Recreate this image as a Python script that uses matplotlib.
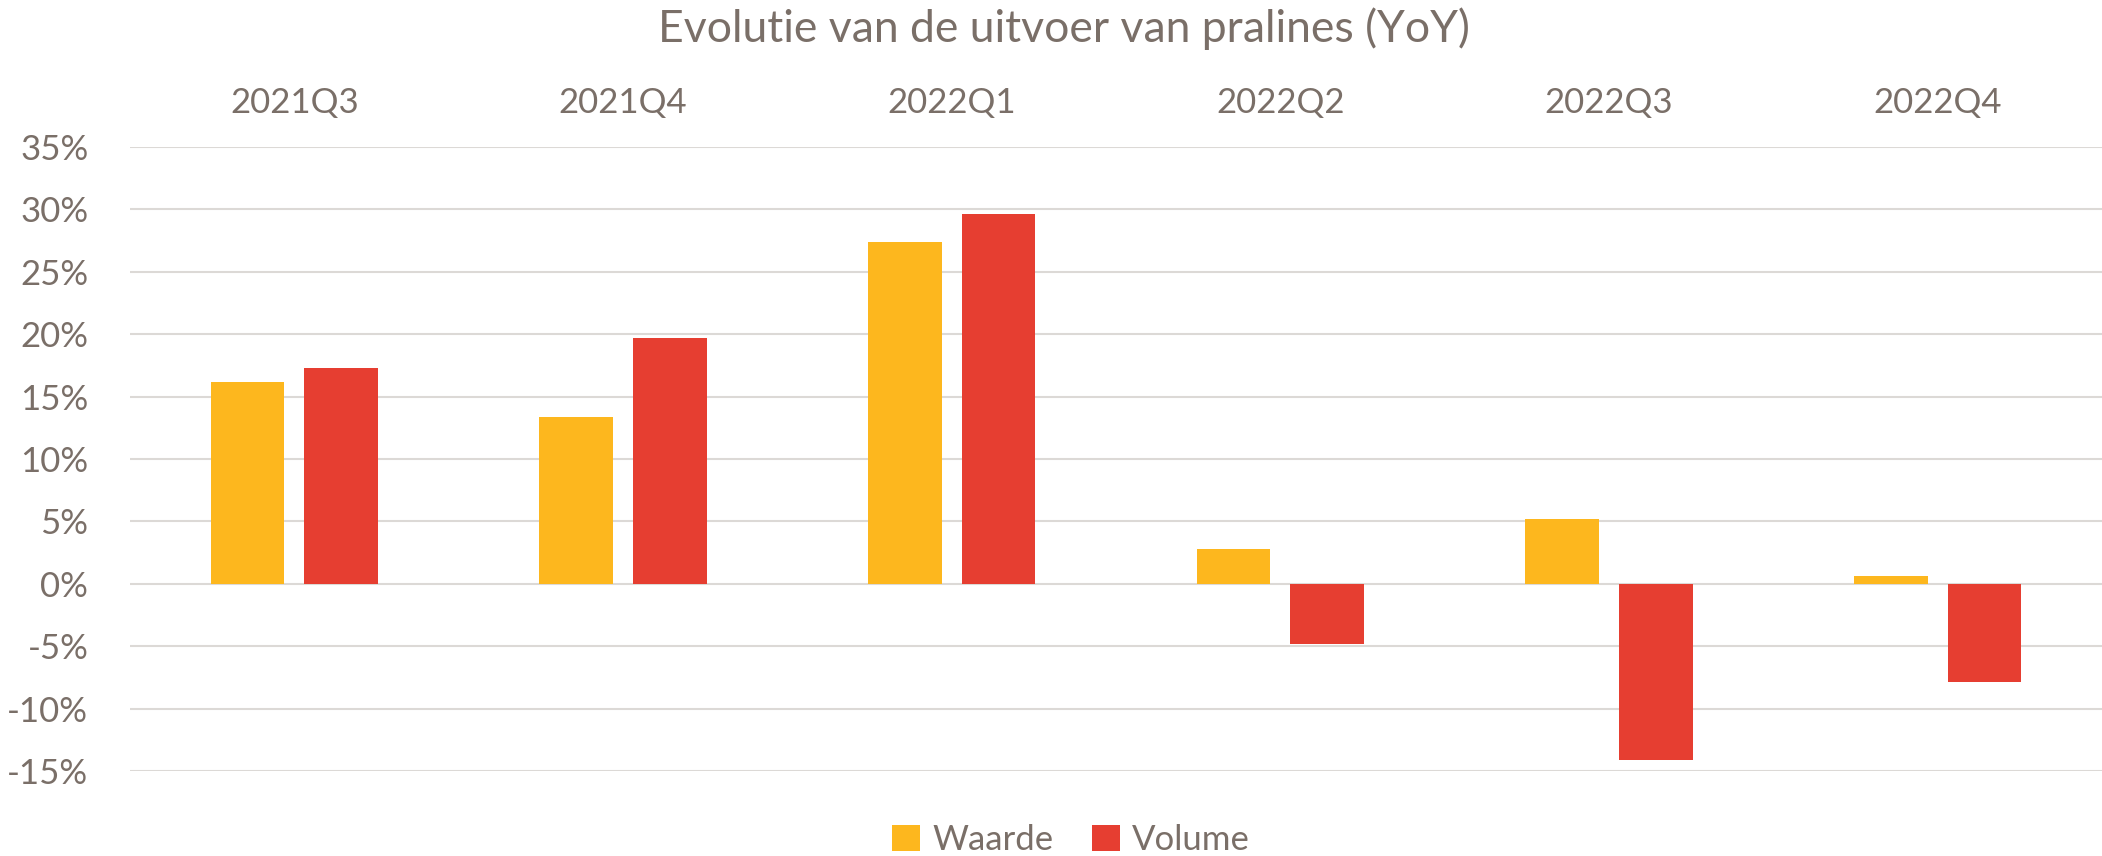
import matplotlib
matplotlib.use("Agg")
import matplotlib.pyplot as plt
import numpy as np
from matplotlib.patches import Patch

categories = ["2021Q3", "2021Q4", "2022Q1", "2022Q2", "2022Q3", "2022Q4"]
waarde = [16.2, 13.4, 27.4, 2.8, 5.2, 0.6]
volume = [17.3, 19.7, 29.6, -4.8, -14.1, -7.9]
yticks = [-15, -10, -5, 0, 5, 10, 15, 20, 25, 30, 35]

TEXT = "#7a6f68"
YEL = "#fdb71e"
RED = "#e63e31"
GRID = "#dcd9d6"

plt.rcParams['font.family'] = ['Lato', 'DejaVu Sans']

fig = plt.figure(figsize=(21.02, 8.56), dpi=100)
ax = fig.add_axes([130/2102, 1-771/856, (2102-130)/2102, (771-147)/856])

x = np.arange(len(categories))
w = 0.225
off = 0.1425
ax.bar(x - off, waarde, width=w, color=YEL, zorder=3, label="Waarde")
ax.bar(x + off, volume, width=w, color=RED, zorder=3, label="Volume")

ax.set_ylim(-15, 35)
ax.set_xlim(-0.5, len(categories) - 0.5)
ax.set_yticks(yticks)
ax.set_yticklabels([f"{v}%" for v in yticks])
ax.yaxis.grid(True, color=GRID, linewidth=1.5, zorder=0)
ax.set_axisbelow(True)

ax.xaxis.tick_top()
ax.set_xticks(x)
ax.set_xticklabels(categories)
ax.tick_params(axis='x', length=0, pad=20, labelsize=25, labelcolor=TEXT)
ax.tick_params(axis='y', length=0, pad=30, labelsize=25, labelcolor=TEXT)

for s in ax.spines.values():
    s.set_visible(False)

fig.text(1064/2102, 1 - 29/856, "Evolutie van de uitvoer van pralines (YoY)",
         ha='center', va='center', fontsize=32, color=TEXT)

handles = [Patch(facecolor=YEL, label="Waarde"), Patch(facecolor=RED, label="Volume")]
fig.legend(handles=handles, loc='center', bbox_to_anchor=(1071/2102, 1 - 840/856), ncol=2,
           frameon=False, fontsize=25, labelcolor=TEXT, handlelength=0.8,
           handleheight=0.8, handletextpad=0.35, columnspacing=1.1)

fig.savefig("out.png", dpi=100)
